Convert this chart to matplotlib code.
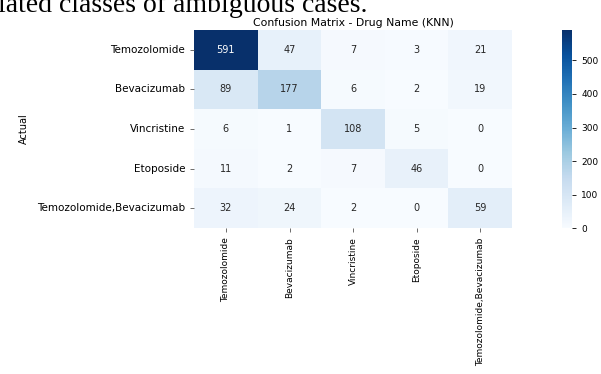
import numpy as np
import matplotlib
matplotlib.use("Agg")
import matplotlib.pyplot as plt
import seaborn as sns

# class names and KNN confusion counts (rows = actual, cols = predicted)
labels = ["Temozolomide", "Bevacizumab", "Vincristine", "Etoposide",
          "Temozolomide,Bevacizumab"]
row_temozolomide = [591, 47, 7, 3, 21]
row_bevacizumab = [89, 177, 6, 2, 19]
row_vincristine = [6, 1, 108, 5, 0]
row_etoposide = [11, 2, 7, 46, 0]
row_combo = [32, 24, 2, 0, 59]
cbar_ticks = [0, 100, 200, 300, 400, 500]

cm = np.array([row_temozolomide, row_bevacizumab, row_vincristine,
               row_etoposide, row_combo])

fig = plt.figure(figsize=(6.01, 3.74), dpi=100)
ax = fig.add_axes([0.323, 0.390, 0.529, 0.530])
cax = fig.add_axes([0.935, 0.390, 0.017, 0.530])

sns.heatmap(cm, annot=True, fmt="d", cmap="Blues", ax=ax, cbar_ax=cax,
            xticklabels=labels, yticklabels=labels,
            annot_kws={"fontsize": 7})

ax.set_title("Confusion Matrix - Drug Name (KNN)", fontsize=7.8, pad=3)
ax.set_xlabel("Predicted", fontsize=7, labelpad=88)
ax.set_ylabel("Actual", fontsize=7, labelpad=6)
ax.tick_params(axis="y", labelsize=7.5, length=3, width=0.6, color="#555555")
ax.tick_params(axis="x", labelsize=6.5, length=3, width=0.6, color="#555555")
plt.setp(ax.get_xticklabels(), rotation=90)
plt.setp(ax.get_yticklabels(), rotation=0)

cax.set_yticks(cbar_ticks)
cax.tick_params(labelsize=6.5, length=3, width=0.6)

# running text of the surrounding page, clipped at the top
fig.text(-0.003, 1 - 12 / 374, "lated classes of ambiguous cases.",
         fontsize=20, family="Liberation Serif", va="baseline", ha="left")

fig.savefig("out.png", dpi=100)
